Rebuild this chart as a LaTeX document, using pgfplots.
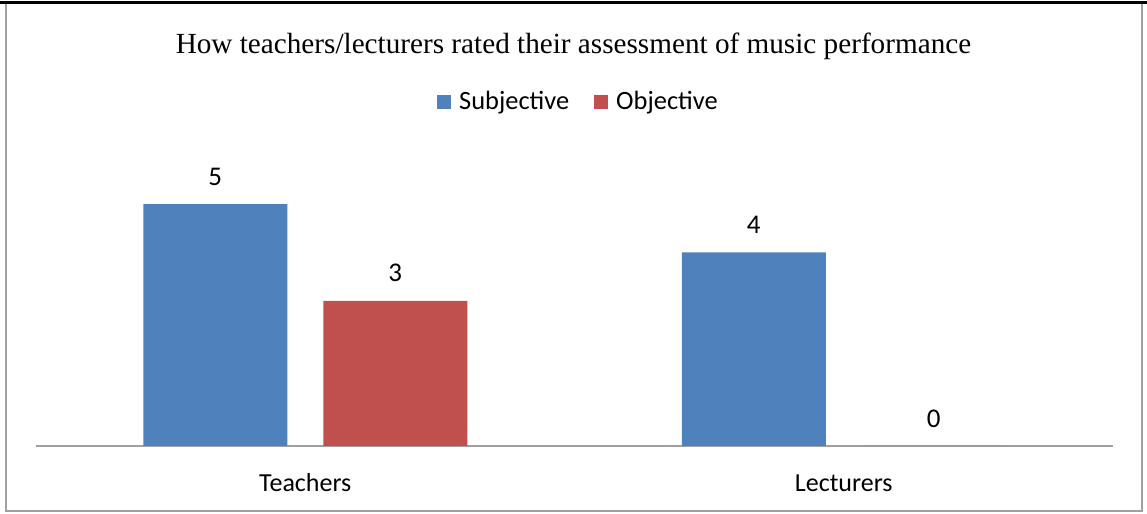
\documentclass[border=0pt]{standalone}
\usepackage{pgfplots}
\pgfplotsset{compat=1.18}
\usepackage{fontspec}
\setmainfont{Liberation Serif}
\newfontfamily\calibri{Carlito}
\definecolor{subj}{HTML}{4F81BD}
\definecolor{obj}{HTML}{C0504D}
\definecolor{framegray}{HTML}{A0A0A0}

\begin{document}
\begin{tikzpicture}
\useasboundingbox (0,0) rectangle (573.5pt,257pt);
% chart frame
\draw[framegray, line width=1pt] (3pt,1.5pt) rectangle (571pt,255.5pt);
\draw[black, line width=1.5pt] (0pt,255.8pt) -- (573.5pt,255.8pt);
% title
\node[font=\fontsize{14.6}{17}\selectfont] at (286.75pt,234pt)
  {How teachers/lecturers rated their assessment of music performance};
\begin{axis}[
  at={(18pt,34pt)}, anchor=south west,
  scale only axis, width=538.5pt, height=145.2pt,
  xmin=-0.5, xmax=1.5, ymin=0, ymax=6,
  ybar, bar width=72pt,
  axis x line*=bottom, axis y line=none,
  x axis line style={draw=framegray, line width=1pt, -},
  xtick={0,1}, xticklabels={Teachers,Lecturers},
  typeset ticklabels with strut,
  major tick length=0pt,
  xticklabel style={font=\calibri\fontsize{13}{15}\selectfont, yshift=-8.5pt},
  /pgf/number format/assume math mode=true,
  nodes near coords,
  every node near coord/.append style={font=\calibri\fontsize{13.5}{16}\selectfont, black, yshift=5.8pt},
  legend columns=2,
  legend image code/.code={\fill[#1] (0pt,-3.5pt) rectangle (7pt,3.5pt); \path (9pt,0pt);},
  legend style={at={(0.5046,1.1846)}, anchor=center, draw=none, fill=none,
    font=\calibri\fontsize{13.2}{15}\selectfont,
    /tikz/every even column/.append style={column sep=10.5pt}},
]
\addplot[fill=subj, draw=none, bar shift=-45pt] coordinates {(0,5) (1,4)};
\addplot[fill=obj, draw=none, bar shift=45pt] coordinates {(0,3) (1,0)};
\legend{Subjective, Objective}
\end{axis}
\end{tikzpicture}
\end{document}
